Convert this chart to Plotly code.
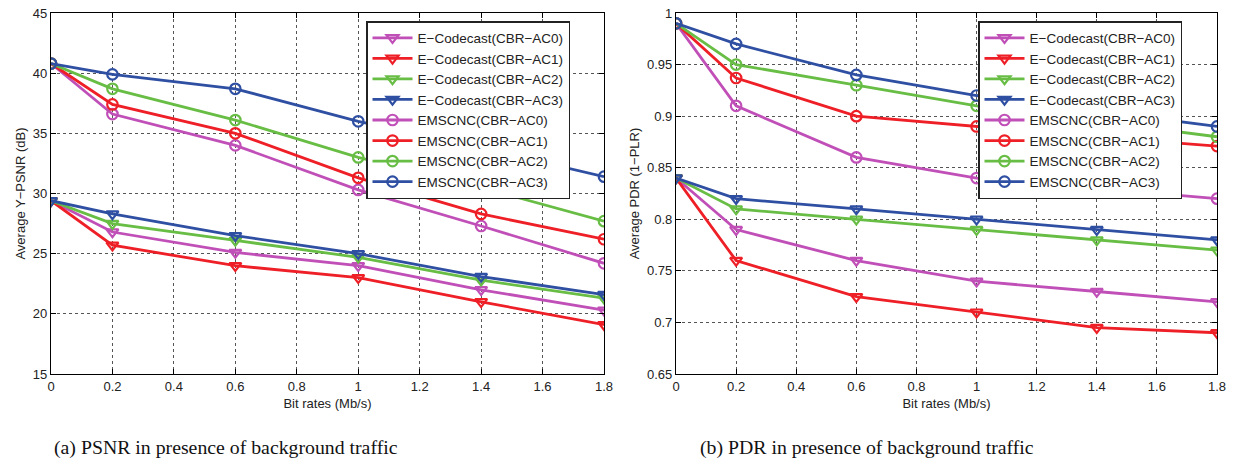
import plotly.graph_objects as go

# Bit rate of the background traffic (Mb/s)
bit_rates = [0, 0.2, 0.6, 1, 1.4, 1.8]

# Average Y-PSNR (dB)
psnr_codecast_ac0 = [29.4, 26.8, 25.1, 24.0, 22.0, 20.3]
psnr_codecast_ac1 = [29.4, 25.7, 24.0, 23.0, 21.0, 19.1]
psnr_codecast_ac2 = [29.4, 27.5, 26.1, 24.7, 22.8, 21.3]
psnr_codecast_ac3 = [29.4, 28.3, 26.5, 25.0, 23.1, 21.6]
psnr_emscnc_ac0 = [40.8, 36.6, 34.0, 30.3, 27.3, 24.2]
psnr_emscnc_ac1 = [40.8, 37.4, 35.0, 31.3, 28.3, 26.2]
psnr_emscnc_ac2 = [40.8, 38.7, 36.1, 33.0, 30.5, 27.7]
psnr_emscnc_ac3 = [40.8, 39.9, 38.7, 36.0, 33.8, 31.4]

# Average packet delivery ratio (1-PLR)
pdr_codecast_ac0 = [0.84, 0.79, 0.76, 0.74, 0.73, 0.72]
pdr_codecast_ac1 = [0.84, 0.76, 0.725, 0.71, 0.695, 0.69]
pdr_codecast_ac2 = [0.84, 0.81, 0.80, 0.79, 0.78, 0.77]
pdr_codecast_ac3 = [0.84, 0.82, 0.81, 0.80, 0.79, 0.78]
pdr_emscnc_ac0 = [0.99, 0.91, 0.86, 0.84, 0.83, 0.82]
pdr_emscnc_ac1 = [0.99, 0.937, 0.90, 0.89, 0.88, 0.871]
pdr_emscnc_ac2 = [0.99, 0.95, 0.93, 0.91, 0.895, 0.88]
pdr_emscnc_ac3 = [0.99, 0.97, 0.94, 0.92, 0.905, 0.89]

series_names = [
    "E−Codecast(CBR−AC0)", "E−Codecast(CBR−AC1)",
    "E−Codecast(CBR−AC2)", "E−Codecast(CBR−AC3)",
    "EMSCNC(CBR−AC0)", "EMSCNC(CBR−AC1)",
    "EMSCNC(CBR−AC2)", "EMSCNC(CBR−AC3)",
]
psnr_series = [psnr_codecast_ac0, psnr_codecast_ac1, psnr_codecast_ac2, psnr_codecast_ac3,
               psnr_emscnc_ac0, psnr_emscnc_ac1, psnr_emscnc_ac2, psnr_emscnc_ac3]
pdr_series = [pdr_codecast_ac0, pdr_codecast_ac1, pdr_codecast_ac2, pdr_codecast_ac3,
              pdr_emscnc_ac0, pdr_emscnc_ac1, pdr_emscnc_ac2, pdr_emscnc_ac3]

x_ticks = [0, 0.2, 0.4, 0.6, 0.8, 1, 1.2, 1.4, 1.6, 1.8]
x_tick_text = ["0", "0.2", "0.4", "0.6", "0.8", "1", "1.2", "1.4", "1.6", "1.8"]
psnr_ticks = [15, 20, 25, 30, 35, 40, 45]
pdr_ticks = [0.65, 0.7, 0.75, 0.8, 0.85, 0.9, 0.95, 1]
pdr_tick_text = ["0.65", "0.7", "0.75", "0.8", "0.85", "0.9", "0.95", "1"]

colors = ["#C04FB8", "#EE1F26", "#68BD45", "#2F4FA2"]
symbols = ["triangle-down-open"] * 4 + ["circle-open"] * 4

W, H = 1235, 464
fig = go.Figure()

for i, name in enumerate(series_names):
    style = dict(
        mode="lines+markers",
        line=dict(color=colors[i % 4], width=2.8),
        marker=dict(symbol=symbols[i], size=10.5, color=colors[i % 4],
                    line=dict(width=2.2, color=colors[i % 4])),
    )
    fig.add_trace(go.Scatter(x=bit_rates, y=psnr_series[i], name=name,
                             xaxis="x", yaxis="y", legend="legend", **style))
    fig.add_trace(go.Scatter(x=bit_rates, y=pdr_series[i], name=name,
                             xaxis="x2", yaxis="y2", legend="legend2", **style))

tick_font = dict(family="Liberation Sans, Arial, sans-serif", size=13, color="#222")
title_font = dict(family="Liberation Sans, Arial, sans-serif", size=13, color="#222")

y_bottom = 1 - 374 / H
y_top = 1 - 13 / H

common_x = dict(
    range=[0, 1.8], tickvals=x_ticks, ticktext=x_tick_text,
    showgrid=True, gridcolor="#555", griddash="dot", gridwidth=1,
    showline=True, linecolor="black", linewidth=1.2, mirror="ticks",
    ticks="inside", ticklen=5, tickcolor="black",
    tickfont=tick_font, zeroline=False, automargin=False,
    title=dict(text="Bit rates (Mb/s)", font=title_font, standoff=6),
)
common_y = dict(
    showgrid=True, gridcolor="#555", griddash="dot", gridwidth=1,
    showline=True, linecolor="black", linewidth=1.2, mirror="ticks",
    ticks="inside", ticklen=5, tickcolor="black",
    tickfont=tick_font, zeroline=False, automargin=False,
)

legend_common = dict(
    xanchor="left", yanchor="top",
    bgcolor="white", bordercolor="#222", borderwidth=1.5,
    font=dict(family="Liberation Sans, Arial, sans-serif", size=13.5, color="#222"),
    itemwidth=40, tracegroupgap=0,
)

fig.update_layout(
    width=W, height=H,
    margin=dict(l=0, r=0, t=0, b=0, autoexpand=False),
    paper_bgcolor="white", plot_bgcolor="white",
    xaxis=dict(domain=[51 / W, 604 / W], anchor="y", **common_x),
    yaxis=dict(domain=[y_bottom, y_top], anchor="x", range=[15, 45],
               tickvals=psnr_ticks,
               title=dict(text="Average Y−PSNR (dB)", font=title_font, standoff=4),
               **common_y),
    xaxis2=dict(domain=[676 / W, 1217 / W], anchor="y2", **common_x),
    yaxis2=dict(domain=[y_bottom, y_top], anchor="x2", range=[0.65, 1],
                tickvals=pdr_ticks, ticktext=pdr_tick_text,
                title=dict(text="Average PDR (1−PLR)", font=title_font, standoff=4),
                **common_y),
    legend=dict(x=366 / W, y=1 - 21 / H, **legend_common),
    legend2=dict(x=978 / W, y=1 - 21 / H, **legend_common),
    showlegend=True,
)

caption_font = dict(family="Liberation Serif, DejaVu Serif, serif", size=19.8, color="#111")
fig.add_annotation(text="(a) PSNR in presence of background traffic",
                   xref="paper", yref="paper", x=52 / W, y=1 - 447 / H,
                   xanchor="left", yanchor="middle", showarrow=False, font=caption_font)
fig.add_annotation(text="(b) PDR in presence of background traffic",
                   xref="paper", yref="paper", x=698 / W, y=1 - 447 / H,
                   xanchor="left", yanchor="middle", showarrow=False, font=caption_font)

fig.write_html("out.html")
